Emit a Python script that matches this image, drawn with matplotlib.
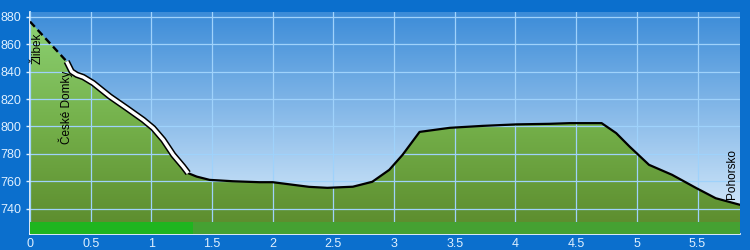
import numpy as np
import matplotlib
matplotlib.use('Agg')
import matplotlib.pyplot as plt
from matplotlib.colors import LinearSegmentedColormap

# elevation profile (km, m)
dist = [0.0, 0.29, 0.302, 0.343, 0.385, 0.439, 0.521, 0.659, 0.796, 0.933,
        1.015, 1.098, 1.18, 1.262, 1.303, 1.373, 1.48, 1.67, 1.89, 2.00,
        2.30, 2.45, 2.66, 2.82, 2.96, 3.07, 3.21, 3.46, 3.73, 4.01, 4.28,
        4.45, 4.71, 4.83, 4.94, 5.10, 5.29, 5.49, 5.65, 5.85]
elev = [876.5, 848.6, 847.4, 840.1, 837.7, 836.0, 831.6, 821.8, 813.4, 804.8,
        798.8, 790.2, 779.3, 770.7, 765.9, 763.4, 761.0, 760.0, 759.3, 759.3,
        755.9, 755.2, 756.0, 759.6, 768.3, 779.3, 796.0, 799.0, 800.4, 801.5,
        801.9, 802.4, 802.4, 795.1, 785.3, 772.0, 764.7, 755.0, 747.6, 742.8]

dashed_end = 0.302     # dashed part of the route
white_end = 1.303      # highlighted part of the route
band_bright_end = 1.34

places = ['Žlibek', 'České Domky', 'Pohorsko']
place_x = [0.066, 0.296, 5.78]
place_y = [857, 814, 765]

xticks = np.arange(0, 5.51, 0.5)
yticks = np.arange(740, 881, 20)

dist = np.array(dist)
elev = np.array(elev)
x0, x1 = 0, 5.85
y0, y1 = 721.5, 883.5

fig = plt.figure(figsize=(7.5, 2.5), dpi=100, facecolor='#0b6fcd')
ax = fig.add_axes([30 / 750, 16 / 250, 710 / 750, 222 / 250])
ax.set_xlim(x0, x1)
ax.set_ylim(y0, y1)

# sky gradient
sky = LinearSegmentedColormap.from_list('sky', ['#e2f1fd', '#3c8cd8'])
ax.imshow(np.linspace(0, 1, 256).reshape(-1, 1), cmap=sky, origin='lower',
          extent=[x0, x1, y0, y1], aspect='auto', zorder=0)

ax.grid(True, color='#9fd2fb', lw=0.9)
ax.set_axisbelow(False)
for gl in ax.get_xgridlines() + ax.get_ygridlines():
    gl.set_zorder(1)

# terrain gradient fill clipped to the profile
grass = LinearSegmentedColormap.from_list('grass', ['#5b8a2c', '#74b04a', '#8dd274'])
poly = ax.fill_between(dist, elev, y0, color='none', zorder=2)
img = ax.imshow(np.linspace(0, 1, 256).reshape(-1, 1), cmap=grass, origin='lower',
                extent=[x0, x1, y0, 880], aspect='auto', zorder=2)
img.set_clip_path(poly.get_paths()[0], transform=ax.transData)

# bottom band
ax.fill_between([x0, x1], y0, 730.2, color='#45a132', lw=0, zorder=3)
ax.fill_between([x0, band_bright_end], y0, 730.2, color='#1fb51f', lw=0, zorder=3)

# route line
m1 = dist <= dashed_end
ax.plot(dist[m1], elev[m1], color='black', lw=1.7, ls=(0, (3, 1.8)), zorder=4)
m2 = (dist >= dashed_end) & (dist <= white_end)
ax.plot(dist[m2], elev[m2], color='black', lw=4.6, solid_capstyle='butt',
        solid_joinstyle='round', zorder=4)
ax.plot(dist[m2], elev[m2], color='white', lw=2.4, solid_capstyle='butt',
        solid_joinstyle='round', zorder=5)
m3 = dist >= white_end
ax.plot(dist[m3], elev[m3], color='black', lw=1.6, solid_joinstyle='round', zorder=4)

for name, px, py in zip(places, place_x, place_y):
    ax.text(px, py, name, rotation=90, ha='center', va='center', fontsize=8.5,
            family='Liberation Sans', color='black', zorder=6)

ax.set_xticks(xticks)
ax.set_xticklabels([f'{v:g}' for v in xticks])
ax.set_yticks(yticks)
ax.tick_params(colors='#dff0ff', labelsize=9, length=3, width=1)
ax.tick_params(axis='x', length=0, pad=3)
for lab in ax.get_xticklabels() + ax.get_yticklabels():
    lab.set_family('Liberation Sans')
for s in ['top', 'right']:
    ax.spines[s].set_visible(False)
for s in ['left', 'bottom']:
    ax.spines[s].set_color('white')
    ax.spines[s].set_linewidth(1.2)

fig.savefig('out.png', dpi=100, facecolor=fig.get_facecolor())
